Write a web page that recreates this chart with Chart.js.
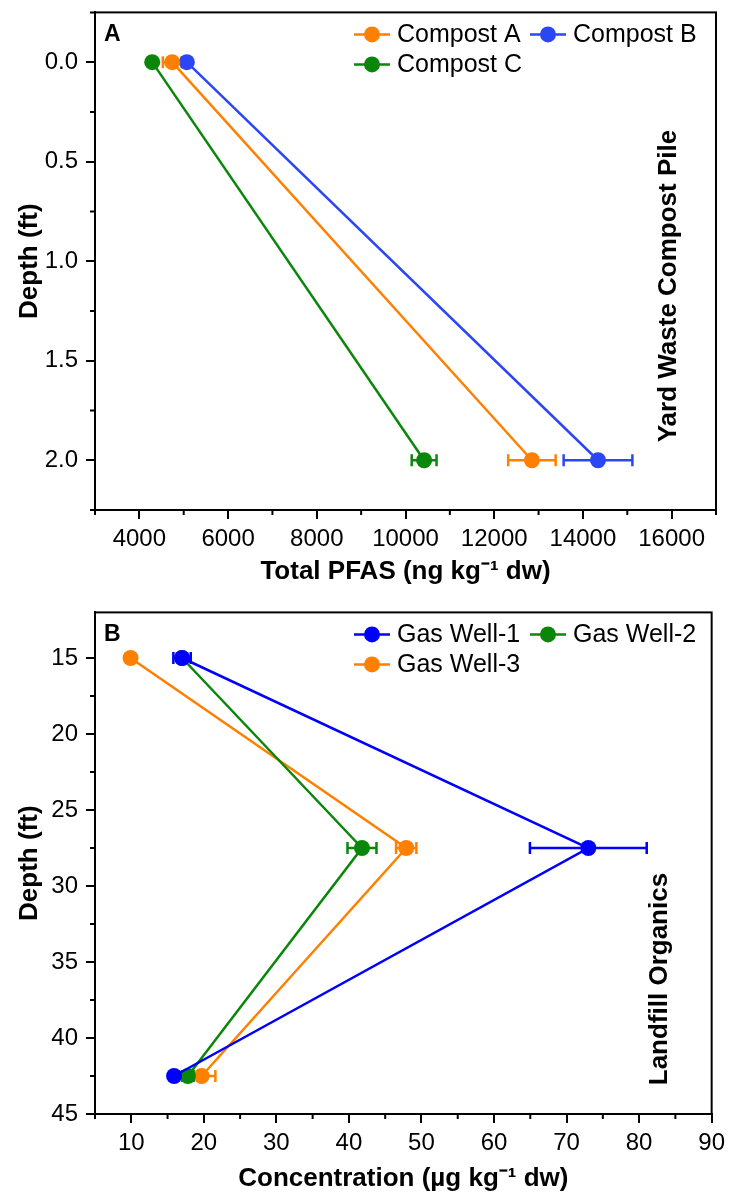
<!DOCTYPE html>
<html>
<head>
<meta charset="utf-8">
<script src="https://cdn.jsdelivr.net/npm/chart.js"></script>
<style>
  body { margin: 0; background: #fff; overflow: hidden; }
  .panel { position: absolute; left: 0; width: 731px; }
  #panelA { top: -10px; height: 600px; }
  #panelB { top: 590px; height: 602px; }
</style>
</head>
<body>
<div class="panel" id="panelA"><canvas id="chartA" width="731" height="600"></canvas></div>
<div class="panel" id="panelB"><canvas id="chartB" width="731" height="602"></canvas></div>

<script>
// panel A : yard waste compost pile
const depthA = [0, 2];
const compostA = [4740, 12850];
const compostAErr = [210, 535];
const compostB = [5070, 14340];
const compostBErr = [90, 775];
const compostC = [4290, 10420];
const compostCErr = [70, 280];
const xTicksA = [4000, 6000, 8000, 10000, 12000, 14000, 16000];
const yTicksA = [0, 0.5, 1, 1.5, 2];

// panel B : landfill organics
const depthB = [15, 27.5, 42.5];
const well1 = [17, 73, 15.9];
const well1Err = [1.2, 8.05, 0.4];
const well2 = [17, 41.8, 17.8];
const well2Err = [0.5, 2, 0.8];
const well3 = [9.9, 47.9, 19.7];
const well3Err = [0.3, 1.4, 1.9];
const xTicksB = [10, 20, 30, 40, 50, 60, 70, 80, 90];
const yTicksB = [15, 20, 25, 30, 35, 40, 45];

const ORANGE = '#ff8000';
const BLUE_A = '#2b46f5';
const BLUE_B = '#0000ff';
const GREEN = '#0a870a';
const FONT = '"Liberation Sans", Arial, sans-serif';

function pts(xs, ys) {
  return xs.map((x, i) => ({ x: x, y: ys[i] }));
}

function series(label, xs, ys, err, color) {
  return {
    label: label,
    data: pts(xs, ys),
    err: err,
    showLine: true,
    fill: false,
    borderColor: color,
    backgroundColor: color,
    borderWidth: 2.5,
    pointRadius: 8,
    pointBorderWidth: 0,
    pointBackgroundColor: color
  };
}

// horizontal error bars, drawn under the points
const errorBars = {
  id: 'errorBars',
  beforeDatasetsDraw(chart) {
    const { ctx, scales: { x, y } } = chart;
    chart.data.datasets.forEach(ds => {
      ctx.save();
      ctx.strokeStyle = ds.borderColor;
      ctx.lineWidth = 2.5;
      ds.data.forEach((p, i) => {
        const e = ds.err[i];
        const x0 = x.getPixelForValue(p.x - e);
        const x1 = x.getPixelForValue(p.x + e);
        const py = y.getPixelForValue(p.y);
        ctx.beginPath();
        ctx.moveTo(x0, py); ctx.lineTo(x1, py);
        ctx.moveTo(x0, py - 6); ctx.lineTo(x0, py + 6);
        ctx.moveTo(x1, py - 6); ctx.lineTo(x1, py + 6);
        ctx.stroke();
      });
      ctx.restore();
    });
  }
};

// frame, minor ticks, panel letter, legend, side caption
const decor = {
  id: 'decor',
  afterDraw(chart, args, opts) {
    const { ctx, chartArea: a, scales: { x, y } } = chart;
    ctx.save();
    ctx.strokeStyle = '#000';
    ctx.lineWidth = 2;
    ctx.strokeRect(a.left, a.top, a.right - a.left, a.bottom - a.top);

    ctx.beginPath();
    opts.minorX.forEach(v => {
      const px = x.getPixelForValue(v);
      ctx.moveTo(px, a.bottom); ctx.lineTo(px, a.bottom + 5);
    });
    opts.minorY.forEach(v => {
      const py = y.getPixelForValue(v);
      ctx.moveTo(a.left, py); ctx.lineTo(a.left - 5, py);
    });
    ctx.stroke();

    ctx.fillStyle = '#000';
    ctx.textBaseline = 'middle';
    ctx.font = 'bold 23px ' + FONT;
    ctx.fillText(opts.letter, a.left + 9, a.top + 22);

    ctx.font = '25px ' + FONT;
    opts.legend.forEach(item => {
      const ds = chart.data.datasets[item.ds];
      const lx = item.x;
      const ly = a.top + item.dy;
      ctx.strokeStyle = ds.borderColor;
      ctx.lineWidth = 2.5;
      ctx.beginPath(); ctx.moveTo(lx, ly); ctx.lineTo(lx + 36, ly); ctx.stroke();
      ctx.fillStyle = ds.borderColor;
      ctx.beginPath(); ctx.arc(lx + 18, ly, 8, 0, Math.PI * 2); ctx.fill();
      ctx.fillStyle = '#000';
      ctx.fillText(ds.label, lx + 43, ly + 1);
    });

    ctx.translate(a.right - opts.sideDx, a.top + (a.bottom - a.top) * opts.sideFy);
    ctx.rotate(-Math.PI / 2);
    ctx.textAlign = 'center';
    ctx.font = 'bold 26px ' + FONT;
    ctx.fillText(opts.side, 0, 0);
    ctx.restore();
  }
};

function minors(ticks, half, first) {
  const out = ticks.map(v => v - half);
  if (!first) out.shift();
  out.push(ticks[ticks.length - 1] + half);
  return out;
}

function axisCommon(ticks, fmt) {
  return {
    type: 'linear',
    afterBuildTicks: s => { s.ticks = ticks.map(v => ({ value: v })); },
    grid: { display: true, drawOnChartArea: false, drawTicks: true, tickLength: 9, color: '#000', lineWidth: 2 },
    border: { display: true, color: '#000', width: 2 },
    ticks: { color: '#000', font: { family: FONT, size: 24 }, autoSkip: false, maxRotation: 0, callback: fmt }
  };
}

function makeChart(id, cfg) {
  const xAxis = axisCommon(cfg.xTicks, v => String(v));
  xAxis.min = cfg.xMin; xAxis.max = cfg.xMax;
  xAxis.ticks.padding = 6;
  xAxis.afterFit = s => { s.height = cfg.xHeight; };
  xAxis.title = { display: true, text: cfg.xTitle, color: '#000',
    font: { family: FONT, size: 26, weight: 'bold', lineHeight: 1 }, padding: { top: 0, bottom: cfg.titlePad } };

  const yAxis = axisCommon(cfg.yTicks, cfg.yFmt);
  yAxis.min = cfg.yMin; yAxis.max = cfg.yMax; yAxis.reverse = true;
  yAxis.ticks.padding = 8;
  yAxis.afterFit = s => { s.width = 95; };
  yAxis.title = { display: true, text: 'Depth (ft)', color: '#000',
    font: { family: FONT, size: 26, weight: 'bold', lineHeight: 1 }, padding: { top: 17, bottom: 0 } };

  return new Chart(document.getElementById(id), {
    type: 'scatter',
    data: { datasets: cfg.datasets },
    options: {
      responsive: false,
      animation: false,
      devicePixelRatio: 1,
      layout: { padding: { left: 0, right: 15, top: cfg.padTop, bottom: 0 } },
      plugins: { legend: { display: false }, tooltip: { enabled: false }, decor: cfg.decor },
      scales: { x: xAxis, y: yAxis }
    },
    plugins: [errorBars, decor]
  });
}

makeChart('chartA', {
  datasets: [
    series('Compost A', compostA, depthA, compostAErr, ORANGE),
    series('Compost B', compostB, depthA, compostBErr, BLUE_A),
    series('Compost C', compostC, depthA, compostCErr, GREEN)
  ],
  xMin: 3000, xMax: 17000, xTicks: xTicksA,
  yMin: -0.25, yMax: 2.25, yTicks: yTicksA, yFmt: v => v.toFixed(1),
  xTitle: 'Total PFAS (ng kg\u207B\u00B9 dw)',
  padTop: 0, xHeight: 80, titlePad: 5,
  decor: {
    letter: 'A', side: 'Yard Waste Compost Pile', sideDx: 47, sideFy: 0.55,
    minorX: minors(xTicksA, 1000, true), minorY: minors(yTicksA, 0.25, true),
    legend: [{ ds: 0, x: 354, dy: 22 }, { ds: 1, x: 530, dy: 22 }, { ds: 2, x: 354, dy: 52 }]
  }
});

makeChart('chartB', {
  datasets: [
    series('Gas Well-1', well1, depthB, well1Err, BLUE_B),
    series('Gas Well-2', well2, depthB, well2Err, GREEN),
    series('Gas Well-3', well3, depthB, well3Err, ORANGE)
  ],
  xMin: 5, xMax: 90, xTicks: xTicksB,
  yMin: 12, yMax: 45, yTicks: yTicksB, yFmt: v => String(v),
  xTitle: 'Concentration (\u00B5g kg\u207B\u00B9 dw)',
  padTop: 22, xHeight: 78, titlePad: 0,
  decor: {
    letter: 'B', side: 'Landfill Organics', sideDx: 52, sideFy: 0.731,
    minorX: minors(xTicksB, 5, true).slice(0, -1), minorY: minors(yTicksB, 2.5, false).slice(0, -1),
    legend: [{ ds: 0, x: 354, dy: 22 }, { ds: 1, x: 530, dy: 22 }, { ds: 2, x: 354, dy: 52 }]
  }
});
</script>
</body>
</html>
